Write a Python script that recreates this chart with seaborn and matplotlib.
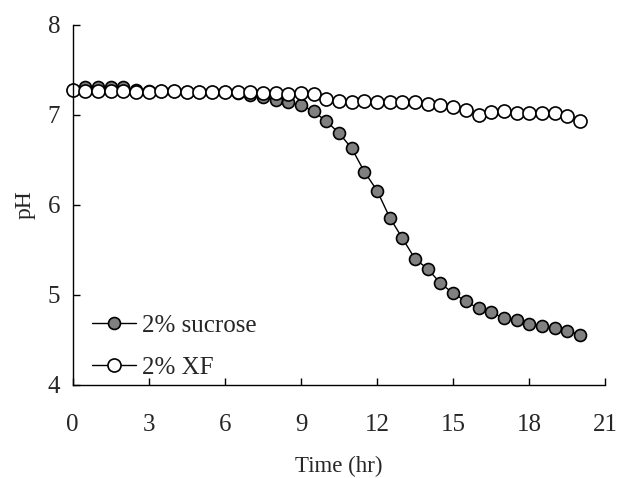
import matplotlib
matplotlib.use("Agg")
import matplotlib.pyplot as plt
import pandas as pd
import seaborn as sns

# Sampling times (hr)
time_hr = [0.0, 0.5, 1.0, 1.5, 2.0, 2.5, 3.0, 3.5, 4.0, 4.5,
           5.0, 5.5, 6.0, 6.5, 7.0, 7.5, 8.0, 8.5, 9.0, 9.5,
           10.0, 10.5, 11.0, 11.5, 12.0, 12.5, 13.0, 13.5, 14.0, 14.5,
           15.0, 15.5, 16.0, 16.5, 17.0, 17.5, 18.0, 18.5, 19.0, 19.5, 20.0]

# pH readings
ph_sucrose = [7.28, 7.31, 7.31, 7.31, 7.31, 7.28, 7.27, 7.27, 7.27, 7.26,
              7.26, 7.25, 7.25, 7.24, 7.22, 7.20, 7.17, 7.14, 7.11, 7.04,
              6.93, 6.80, 6.63, 6.37, 6.16, 5.86, 5.63, 5.40, 5.29, 5.13,
              5.02, 4.93, 4.85, 4.81, 4.74, 4.72, 4.68, 4.65, 4.63, 4.60, 4.56]
ph_xf = [7.28, 7.27, 7.27, 7.27, 7.27, 7.26, 7.26, 7.27, 7.27, 7.26,
         7.26, 7.26, 7.25, 7.25, 7.25, 7.24, 7.24, 7.23, 7.24, 7.23,
         7.18, 7.15, 7.14, 7.16, 7.14, 7.14, 7.14, 7.14, 7.12, 7.11,
         7.09, 7.05, 7.00, 7.03, 7.04, 7.02, 7.02, 7.02, 7.02, 6.99, 6.93]

series_names = ["2% sucrose", "2% XF"]
x_ticks = [0, 3, 6, 9, 12, 15, 18, 21]
y_ticks = [4, 5, 6, 7, 8]

df = pd.concat([
    pd.DataFrame({"Time": time_hr, "pH": ph_sucrose, "Medium": series_names[0]}),
    pd.DataFrame({"Time": time_hr, "pH": ph_xf, "Medium": series_names[1]}),
])

sns.set_style("ticks")
plt.rcParams["font.family"] = ["Liberation Serif", "DejaVu Serif"]

fig = plt.figure(figsize=(6.18, 4.78), dpi=100)
ax = fig.add_axes([0.1176, 0.1946, 0.8619, 0.7531])

face = {series_names[0]: "#808080", series_names[1]: "white"}
msize = {series_names[0]: 8.6, series_names[1]: 9.4}
for name in series_names:
    sub = df[df["Medium"] == name]
    sns.lineplot(data=sub, x="Time", y="pH", ax=ax, color="black",
                 linewidth=1.0, marker="o", markersize=msize[name],
                 markerfacecolor=face[name], markeredgecolor="black",
                 markeredgewidth=1.2, label=name, clip_on=False)

ax.set_xlim(0, 21)
ax.set_ylim(4, 8)
ax.set_xticks(x_ticks)
ax.set_yticks(y_ticks)
ax.set_xlabel("Time (hr)", fontsize=16.5, labelpad=14)
ax.set_ylabel("pH", fontsize=17, labelpad=9)

ax.tick_params(axis="both", direction="in", length=5, width=1.0,
               color="black", labelsize=18)
ax.tick_params(axis="x", pad=21)
ax.tick_params(axis="y", pad=9)

for side in ("top", "right"):
    ax.spines[side].set_visible(False)
for side in ("left", "bottom"):
    ax.spines[side].set_linewidth(1.0)
    ax.spines[side].set_color("black")

ax.legend(loc="lower left", bbox_to_anchor=(0.006, -0.028), frameon=False,
          fontsize=18, handlelength=1.75, handletextpad=0.25,
          labelspacing=0.78, borderaxespad=0.25)

fig.savefig("out.png", dpi=100)
